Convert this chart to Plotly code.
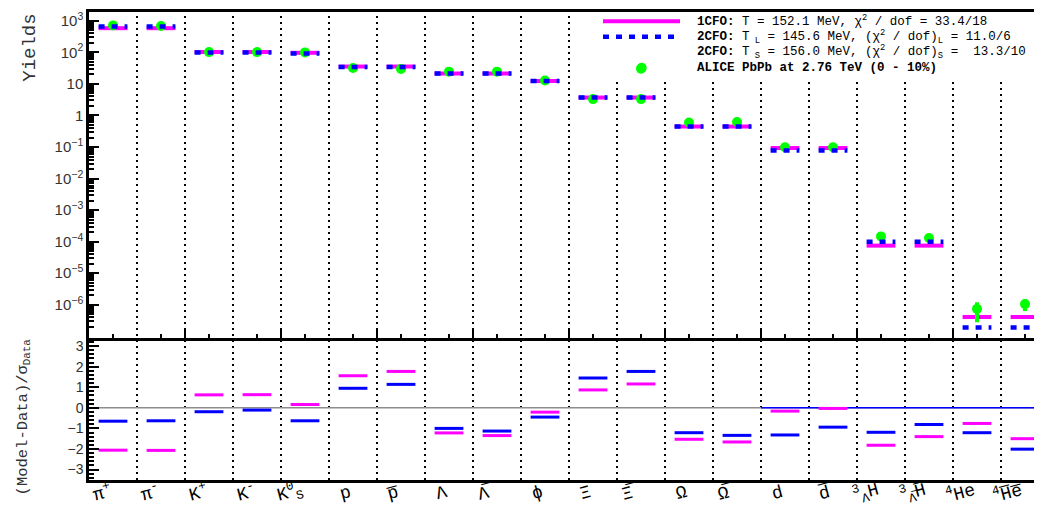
import plotly.graph_objects as go

# ---------------- data ----------------
categories = ["π<sup>+</sup>", "π<sup>-</sup>", "K<sup>+</sup>", "K<sup>-</sup>",
              "K<sup>0</sup><sub>S</sub>", "p", "p\u0305", "Λ", "Λ\u0305", "ϕ",
              "Ξ", "Ξ\u0305", "Ω", "Ω\u0305", "d", "d\u0305",
              "<sup>3</sup><sub>Λ</sub>H", "<sup>3</sup><sub>Λ\u0305</sub>H\u0305",
              "<sup>4</sup>He", "<sup>4</sup>H\u0305e\u0305"]

yield_1cfo = [585, 585, 103, 103, 97, 35.6, 35.6, 21.4, 21.4, 12.4,
              3.7, 3.7, 0.447, 0.447, 0.093, 0.093, 7.5e-5, 7.5e-5, 4.1e-7, 4.1e-7]
yield_2cfo = [662, 662, 100, 100, 93, 34.4, 34.4, 21.4, 21.4, 12.4,
              3.7, 3.7, 0.45, 0.45, 0.078, 0.078, 1.0e-4, 1.0e-4, 1.9e-7, 1.9e-7]
yield_data = [716, 690, 102, 102, 100, 32, 30, 24.5, 24.5, 12.8,
              3.3, 3.3, 0.60, 0.62, 0.098, 0.098, 1.47e-4, 1.31e-4, 7.4e-7, 1.05e-6]
yield_data_err = [0, 0, 0, 0, 0, 0, 0, 0, 0, 0,
                  0, 0, 0, 0, 0, 0, 0, 0, 4.6e-7, 4.2e-7]
extra_data_idx = [11]
extra_data_val = [30.4]

dev_1cfo = [-2.06, -2.07, 0.63, 0.64, 0.16, 1.56, 1.77, -1.22, -1.35, -0.21,
            0.87, 1.16, -1.53, -1.66, -0.16, -0.03, -1.82, -1.40, -0.76, -1.50]
dev_2cfo = [-0.65, -0.63, -0.19, -0.11, -0.63, 0.95, 1.14, -1.00, -1.13, -0.45,
            1.45, 1.77, -1.21, -1.34, -1.32, -0.94, -1.19, -0.81, -1.21, -2.01]

log_ticks = [1e3, 1e2, 10, 1, 1e-1, 1e-2, 1e-3, 1e-4, 1e-5, 1e-6]
log_tick_text = ["10<sup>3</sup>", "10<sup>2</sup>", "10", "1", "10<sup>−1</sup>",
                 "10<sup>−2</sup>", "10<sup>−3</sup>", "10<sup>−4</sup>",
                 "10<sup>−5</sup>", "10<sup>−6</sup>"]

legend_texts = [
    "<b>1CFO:</b> T = 152.1 MeV, χ<sup>2</sup> / dof = 33.4/18",
    "<b>2CFO:</b> T<sub> L</sub> = 145.6 MeV, (χ<sup>2</sup> / dof)<sub>L</sub> = 11.0/6",
    "<b>2CFO:</b> T<sub> S</sub> = 156.0 MeV, (χ<sup>2</sup> / dof)<sub>S</sub> =  13.3/10",
    "<b>ALICE PbPb at 2.76 TeV (0 - 10%)</b>",
]

# ---------------- geometry (page pixels; the page body adds an 8px offset) ----------------
BODY = 8
PLOT_L, PLOT_R, PLOT_T, PLOT_B = 89, 1042, 9, 480
PLOT_W, PLOT_H = PLOT_R - PLOT_L, PLOT_B - PLOT_T
FIG_W, FIG_H = 1042, 509
HALF = 0.3
n = len(categories)
X_MAX = -0.5 + PLOT_W / 48.0


def px(xp):
    return (xp - PLOT_L) / PLOT_W


def py(yp):
    return (PLOT_B - yp) / PLOT_H


def segments(values):
    xs, ys = [], []
    for i, v in enumerate(values):
        xs += [i - HALF, i + HALF, None]
        ys += [v, v, None]
    return xs, ys


MAG = "#ff00ff"
BLU = "#0000ff"
GRN = "#00ff00"
MONO = "Liberation Mono, DejaVu Sans Mono"

fig = go.Figure()

# top panel
x1, y1 = segments(yield_1cfo)
fig.add_trace(go.Scatter(x=x1, y=y1, mode="lines", line=dict(color=MAG, width=4),
                         showlegend=False, xaxis="x2", yaxis="y2"))
fig.add_trace(go.Scatter(x=list(range(n)), y=yield_data, mode="markers",
                         marker=dict(color=GRN, size=10),
                         error_y=dict(type="data", array=yield_data_err, color=GRN,
                                      thickness=4, width=0),
                         showlegend=False, xaxis="x2", yaxis="y2"))
fig.add_trace(go.Scatter(x=extra_data_idx, y=extra_data_val, mode="markers",
                         marker=dict(color=GRN, size=10), showlegend=False,
                         xaxis="x2", yaxis="y2"))
x2, y2 = segments(yield_2cfo)
fig.add_trace(go.Scatter(x=x2, y=y2, mode="lines",
                         line=dict(color=BLU, width=4.5, dash="6px,7px"),
                         showlegend=False, xaxis="x2", yaxis="y2"))

# bottom panel
bx1, by1 = segments(dev_1cfo)
fig.add_trace(go.Scatter(x=bx1, y=by1, mode="lines", line=dict(color=MAG, width=3),
                         showlegend=False, xaxis="x", yaxis="y"))
bx2, by2 = segments(dev_2cfo)
fig.add_trace(go.Scatter(x=bx2, y=by2, mode="lines", line=dict(color=BLU, width=3),
                         showlegend=False, xaxis="x", yaxis="y"))

# shapes: dotted separators, zero lines, legend
shapes = []
for k in range(n - 1):
    shapes.append(dict(type="line", xref="x", yref="paper", x0=k + 0.5, x1=k + 0.5,
                       y0=0, y1=1, layer="below",
                       line=dict(color="black", width=2, dash="2px,4px")))
shapes.append(dict(type="line", xref="x", yref="y", x0=-0.5, x1=X_MAX, y0=0, y1=0,
                   layer="below", line=dict(color="#8c8c8c", width=1.5)))
shapes.append(dict(type="line", xref="x", yref="y", x0=13.5, x1=X_MAX, y0=0, y1=0,
                   layer="below", line=dict(color=BLU, width=1.5)))
# legend box (white, hides separators)
shapes.append(dict(type="rect", xref="paper", yref="paper", x0=px(598), x1=px(1042),
                   y0=py(77), y1=py(10.5), layer="below", fillcolor="white",
                   line=dict(width=0)))
shapes.append(dict(type="line", xref="paper", yref="paper", x0=px(603), x1=px(680),
                   y0=py(18.3), y1=py(18.3), line=dict(color=MAG, width=4)))
shapes.append(dict(type="line", xref="paper", yref="paper", x0=px(603), x1=px(680),
                   y0=py(34), y1=py(34), line=dict(color=BLU, width=4.5, dash="6px,7px")))
shapes.append(dict(type="circle", xref="paper", yref="paper", x0=px(636.7), x1=px(646.7),
                   y0=py(70), y1=py(60), fillcolor=GRN, line=dict(width=0)))

annotations = []
for t, yrow in zip(legend_texts, [18.3, 34, 49.3, 65]):
    annotations.append(dict(text=t, xref="paper", yref="paper", x=px(695), y=py(yrow),
                            xanchor="left", yanchor="middle", showarrow=False,
                            font=dict(family=MONO, size=12.5, color="black")))
# category labels under the bottom axis (tilted, right end near the category centre)
for i, lab in enumerate(categories):
    annotations.append(dict(text=lab, xref="x", yref="paper", x=i + 3 / 48.0,
                            y=py(493), xanchor="right", yanchor="middle",
                            textangle=-15, showarrow=False,
                            font=dict(family=MONO, size=18, color="black")))
annotations.append(dict(text="Yields", xref="paper", yref="paper", x=px(30),
                        y=py(45), textangle=-90, showarrow=False,
                        xanchor="center", yanchor="middle",
                        font=dict(family=MONO, size=19, color="#333")))
annotations.append(dict(text="(Model-Data)/σ<sub>Data</sub>", xref="paper", yref="paper",
                        x=px(23), y=py(417), textangle=-90,
                        showarrow=False, xanchor="center", yanchor="middle",
                        font=dict(family=MONO, size=15.5, color="#333")))

minor_log = [m * 10.0 ** e for e in range(-8, 4) for m in range(2, 10)]

SPLIT = (PLOT_B - 337) / PLOT_H

fig.update_layout(
    width=FIG_W, height=FIG_H,
    margin=dict(l=PLOT_L - BODY, r=FIG_W - (PLOT_R - BODY), t=PLOT_T - BODY,
                b=FIG_H - (PLOT_B - BODY)),
    paper_bgcolor="white", plot_bgcolor="white",
    showlegend=False,
    shapes=shapes,
    annotations=annotations,
    xaxis=dict(domain=[0, 1], anchor="y", range=[-0.5, X_MAX],
               tickmode="array", tickvals=list(range(n)), showticklabels=False,
               ticks="", showgrid=False, zeroline=False,
               showline=True, linecolor="black", linewidth=2.5),
    xaxis2=dict(domain=[0, 1], anchor="y2", matches="x", range=[-0.5, X_MAX],
                tickmode="array", tickvals=[k + 0.5 for k in range(1, n - 1, 2)],
                ticks="inside", ticklen=9, tickwidth=2, tickcolor="black",
                showticklabels=False, showgrid=False, zeroline=False,
                showline=True, mirror=True, linecolor="black", linewidth=2.5,
                minor=dict(tickmode="array", tickvals=list(range(n)), ticks="inside",
                           ticklen=4, tickwidth=1.5, tickcolor="black", showgrid=False)),
    yaxis=dict(domain=[0, SPLIT], anchor="x", range=[-3.51, 3.40],
               tickmode="array", tickvals=[-3, -2, -1, 0, 1, 2, 3],
               ticks="inside", ticklen=10, tickwidth=2, tickcolor="black",
               showgrid=False, zeroline=False, showline=True, linecolor="black",
               linewidth=2.5,
               tickfont=dict(family="Liberation Sans, Arial", size=14, color="#333"),
               minor=dict(dtick=0.2, tick0=0, ticks="inside", ticklen=5, tickwidth=1.5,
                          tickcolor="black", showgrid=False)),
    yaxis2=dict(domain=[SPLIT, 1], anchor="x2", type="log", range=[-7.05, 3.28],
                tickmode="array", tickvals=log_ticks, ticktext=log_tick_text,
                ticks="inside", ticklen=10, tickwidth=2, tickcolor="black",
                showgrid=False, zeroline=False, showline=True, linecolor="black",
                linewidth=2.5,
                tickfont=dict(family="Liberation Sans, Arial", size=15, color="#333"),
                minor=dict(tickmode="array", tickvals=minor_log, ticks="inside",
                           ticklen=5, tickwidth=1.5, tickcolor="black", showgrid=False)),
)

fig.write_html("out.html")
